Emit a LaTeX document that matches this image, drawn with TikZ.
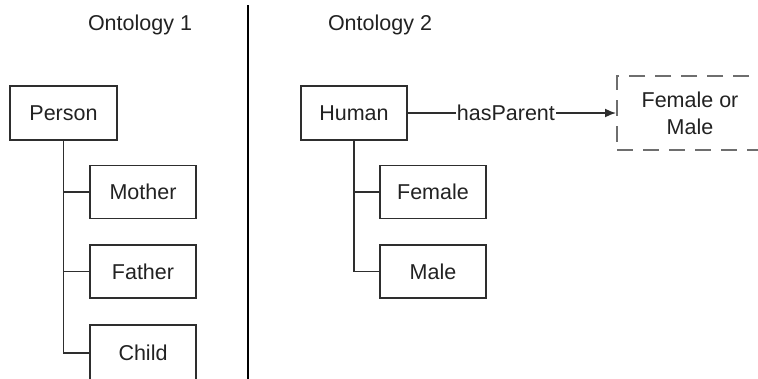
\documentclass[tikz,border=0pt]{standalone}
\usepackage{fontspec}
\setmainfont{Liberation Sans}
\usetikzlibrary{arrows.meta}
\definecolor{ink}{HTML}{222222}
\definecolor{edge}{HTML}{2E2E2E}
\definecolor{dashgray}{HTML}{6E6E6E}
\tikzset{
  lbl/.style={font=\fontsize{21.5}{27}\selectfont, text=ink},
  cls/.style={lbl, draw=edge, line width=1.6pt, rectangle, inner sep=0pt,
              minimum width=106pt, minimum height=53pt},
  link/.style={draw=edge, line width=1.6pt},
  unionbox/.style={lbl, draw=dashgray, line width=2pt, dash pattern=on 16pt off 10pt,
              rectangle, inner sep=0pt, minimum width=146pt, minimum height=74pt, align=center},
  divider/.style={draw=black, line width=2.2pt}
}
\begin{document}
\begin{tikzpicture}[x=1pt,y=-1pt]
  \useasboundingbox (0,0) rectangle (758,378);
  \clip (0,0) rectangle (758,378);
  \fill[white] (0,0) rectangle (758,378);

  % headings and divider
  \node[lbl] (ont1) at (140,25) {Ontology 1};
  \node[lbl] (ont2) at (380,25) {Ontology 2};
  \coordinate (divtop) at (248,5);
  \coordinate (divbot) at (248,380);
  \draw[divider] (divtop) -- (divbot);

  % first ontology
  \node[cls, minimum width=107pt, minimum height=54pt] (person) at (63.5,113) {Person};
  \node[cls] (mother) at (143,192) {Mother};
  \node[cls] (father) at (143,271.5) {Father};
  \node[cls, minimum height=56pt] (child) at (143,353) {Child};
  \draw[link] (person.south) |- (child.west);
  \draw[link] (person.south) |- (mother.west);
  \draw[link] (person.south) |- (father.west);

  % second ontology
  \node[cls, minimum height=54pt] (human) at (354,113) {Human};
  \node[cls] (female) at (433,192) {Female};
  \node[cls] (male) at (433,271.5) {Male};
  \draw[link] (human.south) |- (male.west);
  \draw[link] (human.south) |- (female.west);

  \node[unionbox] (union) at (690,113) {Female or\\Male};
  \draw[link, -{Latex[length=11pt,width=9pt]}] (human.east) --
    node[lbl, fill=white, inner sep=1pt, xshift=-6pt] {hasParent} (union.west);
\end{tikzpicture}
\end{document}
